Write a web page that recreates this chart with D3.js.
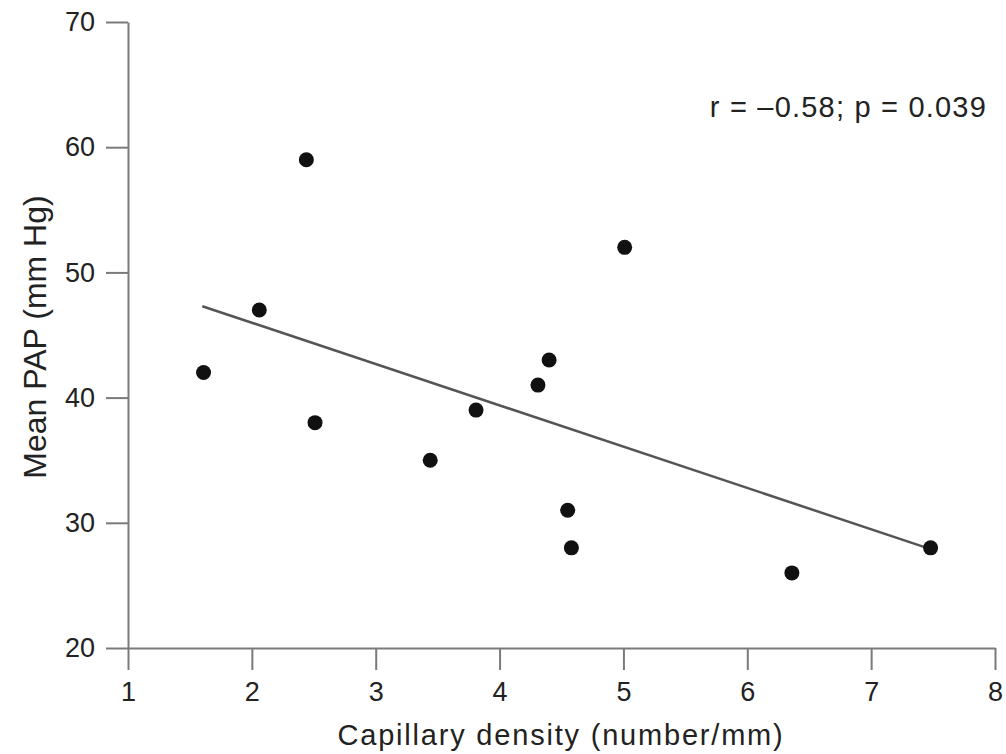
<!DOCTYPE html>
<html lang="en">
<head>
<meta charset="UTF-8">
<title>Capillary density vs mean PAP</title>
<script src="https://d3js.org/d3.v7.min.js"></script>
<style>
  body { margin: 0; background: #fff; }
  text { font-family: "Liberation Sans", Arial, sans-serif; fill: #222; }
</style>
</head>
<body>
<script>
// data
var density = [1.61, 2.06, 2.44, 2.51, 3.44, 3.81, 4.31, 4.40, 4.55, 4.58, 5.01, 6.36, 7.48];
var pap     = [42,   47,   59,   38,   35,   39,   41,   43,   31,   28,   52,   26,   28];
var fitLine = [[1.6, 47.3], [7.48, 27.9]];
var xTicks = [1, 2, 3, 4, 5, 6, 7, 8];
var yTicks = [20, 30, 40, 50, 60, 70];

var width = 1006, height = 754;
var svg = d3.select("body").append("svg")
  .attr("width", width)
  .attr("height", height);

var x = d3.scaleLinear().domain([1, 8]).range([128, 995]);
var y = d3.scaleLinear().domain([20, 70]).range([648, 22]);

var axisColor = "#7a7a7a";

var xAxis = svg.append("g")
  .attr("transform", "translate(0," + y(20) + ")")
  .call(d3.axisBottom(x).tickValues(xTicks).tickFormat(d3.format("d"))
    .tickSize(22).tickSizeOuter(0).tickPadding(12));
var yAxis = svg.append("g")
  .attr("transform", "translate(" + x(1) + ",0)")
  .call(d3.axisLeft(y).tickValues(yTicks).tickFormat(d3.format("d"))
    .tickSize(22).tickSizeOuter(0).tickPadding(11));

[xAxis, yAxis].forEach(function(g) {
  g.select(".domain").attr("stroke", axisColor).attr("stroke-width", 2);
  g.selectAll(".tick line").attr("stroke", axisColor).attr("stroke-width", 2);
  g.selectAll(".tick text").attr("font-size", 27).attr("fill", "#222")
    .style("font-family", "'Liberation Sans', Arial, sans-serif");
});

// regression line
svg.append("line")
  .attr("x1", x(fitLine[0][0])).attr("y1", y(fitLine[0][1]))
  .attr("x2", x(fitLine[1][0])).attr("y2", y(fitLine[1][1]))
  .attr("stroke", "#555")
  .attr("stroke-width", 2.5);

svg.selectAll("circle.pt")
  .data(density)
  .enter()
  .append("circle")
  .attr("class", "pt")
  .attr("cx", function(d) { return x(d); })
  .attr("cy", function(d, i) { return y(pap[i]); })
  .attr("r", 7.5)
  .attr("fill", "#111");

svg.append("text")
  .attr("x", 561).attr("y", 745)
  .attr("text-anchor", "middle")
  .attr("font-size", 29)
  .attr("letter-spacing", 1.8)
  .text("Capillary density (number/mm)");

svg.append("text")
  .attr("transform", "translate(46,337) rotate(-90)")
  .attr("text-anchor", "middle")
  .attr("font-size", 32)
  .text("Mean PAP (mm Hg)");

svg.append("text")
  .attr("x", 987).attr("y", 117)
  .attr("text-anchor", "end")
  .attr("font-size", 29)
  .attr("letter-spacing", 1.2)
  .text("r = \u20130.58; p = 0.039");
</script>
</body>
</html>
